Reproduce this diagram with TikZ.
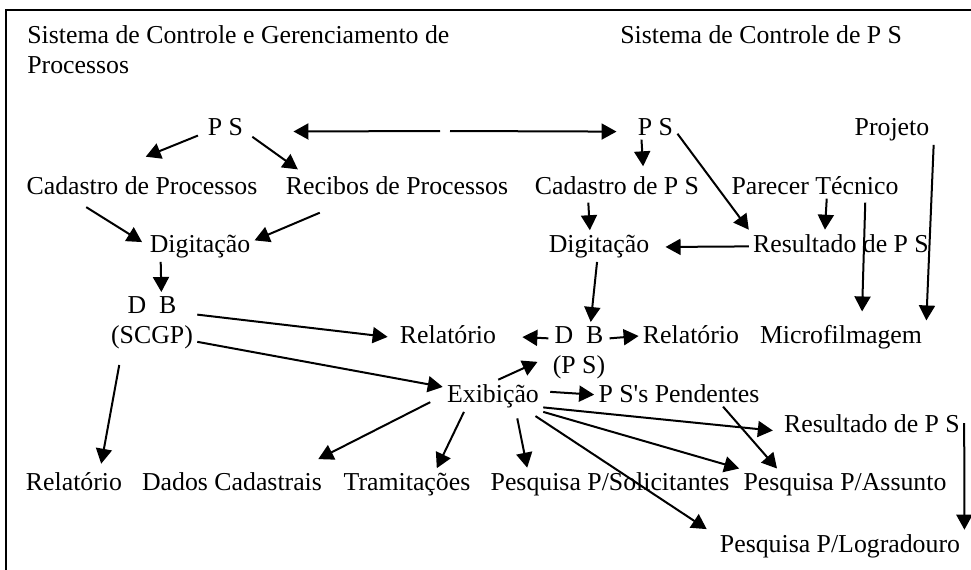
\documentclass[tikz,border=0pt]{standalone}
\usepackage{fontspec}
\setmainfont{Liberation Serif}
\usepackage{tikz}
\usetikzlibrary{arrows.meta}

\begin{document}
\begin{tikzpicture}[x=0.5pt, y=-0.5pt, font=\fontsize{12.9}{15}\selectfont,
        lbl/.style={inner sep=2pt, anchor=base},
        arr/.style={-{Triangle[length=7.5pt, width=8pt]}, line width=1pt}]
        \useasboundingbox (0,0) rectangle (971,569);
        \draw [line width=1pt] (990,10) -| (6,590);
        \node [inner sep=0pt, anchor=north west, align=left] (titlea) at (27,25.4) {Sistema de Controle e Gerenciamento de\\Processos};
        \node [inner sep=0pt, anchor=base west] (titleb) at (620,43) {Sistema de Controle de P S};
        \node [lbl] (psa) at (225.5,135) {P S};
        \node [lbl] (psb) at (655.5,135) {P S};
        \node [lbl] (proj) at (892,135) {Projeto};
        \node [lbl] (cadp) at (142,194) {Cadastro de Processos};
        \node [lbl] (rec) at (397,194) {Recibos de Processos};
        \node [lbl] (cadps) at (617,194) {Cadastro de P S};
        \node [lbl] (par) at (815,194) {Parecer Técnico};
        \node [lbl] (diga) at (200,252) {Digitação};
        \node [lbl] (digb) at (599,252) {Digitação};
        \node [lbl] (resa) at (841,252) {Resultado de P S};
        \node [lbl, anchor=north, align=center] (dba) at (152,292) {D\ \ B\\(SCGP)};
        \node [lbl] (rela) at (448,343) {Relatório};
        \node [lbl, anchor=north, align=center] (dbb) at (579,322) {D\ \ B\\(P S)};
        \node [lbl] (relb) at (691,343) {Relatório};
        \node [lbl] (micro) at (841,343) {Microfilmagem};
        \node [lbl] (exib) at (493,402) {Exibição};
        \node [lbl] (pend) at (679,402) {P S\textquotesingle s Pendentes};
        \node [lbl] (resb) at (872,432) {Resultado de P S};
        \node [lbl] (relc) at (74,490) {Relatório};
        \node [lbl] (dados) at (232,490) {Dados Cadastrais};
        \node [lbl] (tram) at (407,490) {Tramitações};
        \node [lbl] (psol) at (610,490) {Pesquisa P/Solicitantes};
        \node [lbl] (pass) at (845,490) {Pesquisa P/Assunto};
        \node [lbl] (plog) at (840,552) {Pesquisa P/Logradouro};
        \coordinate (gapl) at (440,131);
        \coordinate (gapr) at (450,131);
        \draw [arr, shorten <=3pt, shorten >=20pt] (psa.197) -- (cadp.158);
        \draw [arr, shorten <=3pt, shorten >=2pt] (psa.-17) -- (rec.172);
        \draw [arr, shorten >=23pt] (gapl) -- (psa.-13);
        \draw [arr, shorten >=8.5pt] (gapr) -- (psb.193);
        \draw [arr, shorten >=2.7pt] (psb.223) -- (cadps.27);
        \draw [arr] (psb.-18) -- (resa.north west);
        \draw [arr] (proj.south east) -- (micro.north east);
        \draw [arr, shorten <=8pt, shorten >=2pt] (cadp.191) -- (diga.178);
        \draw [arr, shorten <=18pt] (rec.197) -- (diga.6);
        \draw [arr] (diga.202) -- (dba.73);
        \draw [arr, shorten >=4pt] (dba.10) -- (rela.184);
        \draw [arr] (dba.-23) -- (exib.170);
        \draw [arr, shorten <=6pt, shorten >=2pt] (dba.225) -- (relc.27);
        \draw [arr, shorten <=2pt] (cadps.205) -- (digb.120);
        \draw [arr, shorten >=6pt] (resa.182) -- (digb.-1);
        \draw [arr] (par.-49) -- (resa.140);
        \draw [arr, shorten <=2pt, shorten >=4.5pt] (par.-15) -- (micro.38);
        \draw [arr] (digb.263) -- (dbb.69);
        \draw [arr, shorten >=11pt] (dbb.155) -- (rela.-2);
        \draw [arr] (dbb.25) -- (relb.182);
        \draw [arr, shorten >=6pt] (exib.72) -- (dbb.188);
        \draw [arr, shorten <=3.5pt] (exib.5) -- (pend.181);
        \draw [arr, shorten >=3.5pt] (exib.-13) -- (resb.185);
        \draw [arr] (exib.south east) -- (pass.north west);
        \draw [arr, shorten <=3.8pt, shorten >=5.3pt] (exib.-24) -- (plog.175);
        \draw [arr, shorten <=3.3pt] (exib.-35) -- (psol.169);
        \draw [arr, shorten <=7pt, shorten >=9.5pt] (exib.west) -- (dados.11);
        \draw [arr] (exib.209) -- (tram.28);
        \draw [arr] (pend.-17) -- (pass.167);
        \draw [arr] (resb.east) -- (plog.north east);
    \end{tikzpicture}
\end{document}
